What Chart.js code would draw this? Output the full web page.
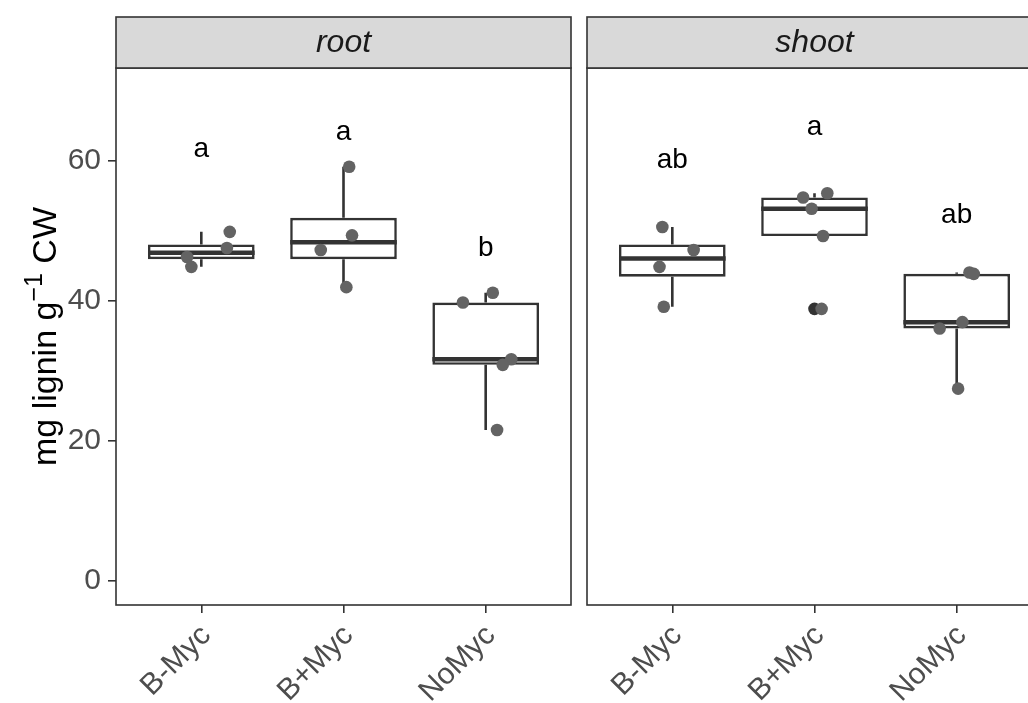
<!DOCTYPE html>
<html><head><meta charset="utf-8">
<script src="https://cdn.jsdelivr.net/npm/chart.js@4.4.0/dist/chart.umd.min.js"></script>
<style>
html,body{margin:0;padding:0;background:#fff;width:1028px;height:703px;overflow:hidden;position:relative;}
#cRoot{position:absolute;left:0;top:0;}
#cShoot{position:absolute;left:471px;top:0;}
</style></head><body>
<canvas id="cRoot" width="580" height="703"></canvas>
<canvas id="cShoot" width="580" height="703"></canvas>
<script>
// ---------- data ----------
const categories = ['B-Myc', 'B+Myc', 'NoMyc'];
const panelNames = ['root', 'shoot'];
const yTickValues = [0, 20, 40, 60];
const yRange = [-3.4, 73.3];

// root panel: box statistics
const rootQ1 = [46.0, 46.0, 30.9];
const rootMedian = [46.9, 48.4, 31.7];
const rootQ3 = [48.1, 51.9, 39.8];
const rootWhiskerLow = [44.9, 42.0, 21.6];
const rootWhiskerHigh = [49.9, 59.2, 41.2];
// root panel: jittered observations (x = category position incl. jitter)
const rootPointX = [1.20, 1.18, 0.90, 0.93, 2.04, 2.06, 1.84, 2.02, 3.05, 2.84, 3.18, 3.12, 3.08];
const rootPointY = [49.9, 47.6, 46.3, 44.9, 59.2, 49.4, 47.3, 42.0, 41.2, 39.8, 31.7, 30.9, 21.6];
const rootOutlierX = [];
const rootOutlierY = [];
const rootLetters = ['a', 'a', 'b'];
const rootLetterY = [60.6, 63.0, 46.4];

// shoot panel
const shootQ1 = [43.5, 49.3, 36.1];
const shootMedian = [46.1, 53.2, 37.0];
const shootQ3 = [48.1, 54.8, 43.9];
const shootWhiskerLow = [39.2, 49.3, 27.5];
const shootWhiskerHigh = [50.6, 55.4, 44.1];
const shootPointX = [0.93, 1.15, 0.91, 0.94, 1.92, 2.09, 1.98, 2.06, 2.05, 3.09, 3.12, 3.04, 2.88, 3.01];
const shootPointY = [50.6, 47.3, 44.9, 39.2, 54.8, 55.4, 53.2, 49.3, 38.9, 44.1, 43.9, 37.0, 36.1, 27.5];
const shootOutlierX = [2];
const shootOutlierY = [38.9];
const shootLetters = ['ab', 'a', 'ab'];
const shootLetterY = [59.0, 63.8, 51.2];

// ---------- styles ----------
const FONT = '"Liberation Sans", Arial, sans-serif';
const BOX_W = 0.75;
const DARK = '#333333';
const STRIP_TOP = 17;

function buildDatasets(q1, med, q3, wlo, whi, px, py, ox, oy) {
  const whisk = [];
  const meds = [];
  categories.forEach((c, i) => {
    const x = i + 1;
    if (whi[i] > q3[i]) whisk.push({x, y: q3[i]}, {x, y: whi[i]}, {x, y: null});
    if (wlo[i] < q1[i]) whisk.push({x, y: wlo[i]}, {x, y: q1[i]}, {x, y: null});
    meds.push({x: x - BOX_W / 2, y: med[i]}, {x: x + BOX_W / 2, y: med[i]}, {x: x + BOX_W / 2, y: null});
  });
  return [
    { type: 'scatter', data: px.map((x, i) => ({x, y: py[i]})), order: 0,
      pointRadius: 6.3, pointBackgroundColor: '#636363', pointBorderWidth: 0, showLine: false },
    { type: 'scatter', data: ox.map((x, i) => ({x, y: oy[i]})), order: 1,
      pointRadius: 6.3, pointBackgroundColor: DARK, pointBorderWidth: 0, showLine: false },
    { type: 'line', data: meds, order: 2, borderColor: DARK, borderWidth: 4.5,
      pointRadius: 0, spanGaps: false, borderCapStyle: 'butt' },
    { type: 'bar', data: categories.map((c, i) => ({x: i + 1, y: [q1[i], q3[i]]})), order: 3,
      backgroundColor: '#ffffff', borderColor: DARK, borderWidth: 2.6, borderSkipped: false,
      barPercentage: BOX_W, categoryPercentage: 1, grouped: false },
    { type: 'line', data: whisk, order: 4, borderColor: DARK, borderWidth: 2.6,
      pointRadius: 0, spanGaps: false }
  ];
}

const panelPlugin = {
  id: 'panelDeco',
  afterDatasetsDraw(chart, args, opts) {
    const {ctx, scales} = chart;
    ctx.save();
    ctx.fillStyle = '#000000';
    ctx.font = '28px ' + FONT;
    ctx.textAlign = 'center';
    ctx.textBaseline = 'alphabetic';
    opts.letters.forEach((t, i) => {
      ctx.fillText(t, scales.x.getPixelForValue(i + 1), scales.y.getPixelForValue(opts.letterY[i]));
    });
    ctx.restore();
  },
  afterDraw(chart, args, opts) {
    const {ctx, chartArea: a} = chart;
    ctx.save();
    ctx.strokeStyle = DARK;
    ctx.lineWidth = 1.6;
    ctx.strokeRect(a.left, a.top, a.right - a.left, a.bottom - a.top);
    ctx.fillStyle = '#d9d9d9';
    ctx.fillRect(a.left, STRIP_TOP, a.right - a.left, a.top - STRIP_TOP);
    ctx.strokeRect(a.left, STRIP_TOP, a.right - a.left, a.top - STRIP_TOP);
    ctx.fillStyle = '#1a1a1a';
    ctx.font = 'italic 32px ' + FONT;
    ctx.textAlign = 'center';
    ctx.textBaseline = 'middle';
    ctx.fillText(opts.title, (a.left + a.right) / 2, (STRIP_TOP + a.top) / 2 + 1);
    if (opts.yTitle) {
      const cy = (a.top + a.bottom) / 2;
      ctx.translate(56, cy);
      ctx.rotate(-Math.PI / 2);
      ctx.textAlign = 'left';
      ctx.textBaseline = 'alphabetic';
      ctx.fillStyle = '#000000';
      const big = '34px ' + FONT, small = '25px ' + FONT;
      const [p1, sup, p2] = opts.yTitle;
      ctx.font = big; const w1 = ctx.measureText(p1).width;
      ctx.font = small; const w2 = ctx.measureText(sup).width;
      ctx.font = big; const w3 = ctx.measureText(p2).width;
      let x = -(w1 + w2 + w3) / 2;
      ctx.font = big; ctx.fillText(p1, x, 0); x += w1;
      ctx.font = small; ctx.fillText(sup, x, -14); x += w2;
      ctx.font = big; ctx.fillText(p2, x, 0);
    }
    ctx.restore();
  }
};

function makeChart(id, name, ds, letters, letterY, showYLabels) {
  return new Chart(document.getElementById(id), {
    type: 'bar',
    data: { datasets: ds },
    plugins: [panelPlugin],
    options: {
      responsive: false,
      animation: false,
      devicePixelRatio: 1,
      layout: { padding: {top: 68, right: 9, left: 0, bottom: 0} },
      plugins: {
        legend: { display: false },
        tooltip: { enabled: false },
        panelDeco: { title: name, letters, letterY,
                     yTitle: showYLabels ? ['mg lignin g', '\u22121', ' CW'] : null }
      },
      scales: {
        x: {
          type: 'linear', min: 0.4, max: 3.6, offset: false,
          afterBuildTicks: s => { s.ticks = categories.map((c, i) => ({value: i + 1})); },
          afterFit: s => { s.height = 98; },
          grid: { offset: false, drawOnChartArea: false, tickLength: 8, color: DARK, lineWidth: 1.6 },
          border: { display: false },
          ticks: { autoSkip: false, minRotation: 45, maxRotation: 45, padding: 5, labelOffset: 5,
                   color: '#4d4d4d', font: { family: FONT, size: 30 },
                   callback: (v, i) => categories[i] }
        },
        y: {
          min: yRange[0], max: yRange[1],
          afterBuildTicks: s => { s.ticks = yTickValues.map(v => ({value: v})); },
          afterFit: s => { s.width = 116; },
          grid: { display: showYLabels, drawOnChartArea: false, tickLength: 8, color: DARK, lineWidth: 1.6 },
          border: { display: false },
          ticks: { display: showYLabels, padding: 7, color: '#4d4d4d', font: { family: FONT, size: 30 } }
        }
      }
    }
  });
}

makeChart('cRoot', panelNames[0],
  buildDatasets(rootQ1, rootMedian, rootQ3, rootWhiskerLow, rootWhiskerHigh, rootPointX, rootPointY, rootOutlierX, rootOutlierY),
  rootLetters, rootLetterY, true);
makeChart('cShoot', panelNames[1],
  buildDatasets(shootQ1, shootMedian, shootQ3, shootWhiskerLow, shootWhiskerHigh, shootPointX, shootPointY, shootOutlierX, shootOutlierY),
  shootLetters, shootLetterY, false);
</script>
</body></html>
